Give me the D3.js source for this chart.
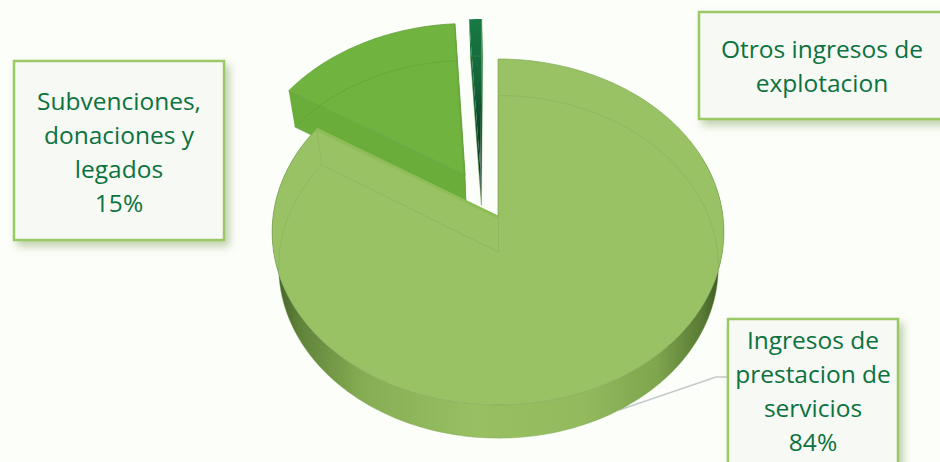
<!DOCTYPE html>
<html>
<head>
<meta charset="utf-8">
<script src="https://cdn.jsdelivr.net/npm/d3@7"></script>
<style>
  html, body { margin: 0; padding: 0; background: #fcfefa; overflow: hidden; }
  text { font-family: "Open Sans", Lato, sans-serif; font-size: 24.5px; fill: #0b7240; text-anchor: middle; }
</style>
</head>
<body>
<svg id="chart" width="940" height="462"></svg>
<script>
// values
const categories = ['Ingresos de prestacion de servicios', 'Subvenciones, donaciones y legados', 'Otros ingresos de explotacion'];
const shares = [84, 15, 1];
const labelLines = [
  ['Ingresos de', 'prestacion de', 'servicios', '84%'],
  ['Subvenciones,', 'donaciones y', 'legados', '15%'],
  ['Otros ingresos de', 'explotacion']
];

// layout
const width = 940, height = 462;
const persp = 0.0867;
const depth = 35;
const explode = [[0, 0], [-0.149, -0.249], [-0.08, -0.281]];
const topColor = ['#99c264', '#70b33e', '#187a46'];
const wallColor = ['#9bc466', '#6bad3a', '#0d4a2a'];
const boxes = [
  { x: 728, y: 319, w: 170, h: 160, cy: 341 },
  { x: 14, y: 61, w: 210, h: 179, cy: 102 },
  { x: 699, y: 12, w: 260, h: 107, cy: 50, cx: 822 }
];

const svg = d3.select('#chart');
const defs = svg.append('defs');

svg.append('rect').attr('width', width).attr('height', height).attr('fill', '#fcfefa');

// top face and the base below it, same perspective
const xTop = d3.scaleLinear().domain([-1, 1]).range([498 - 225, 498 + 225]);
const yTop = d3.scaleLinear().domain([-1, 1]).range([217 - 171.7, 217 + 171.7]);
const xBase = d3.scaleLinear().domain([-1, 1]).range([498.5 - 219, 498.5 + 219]);
const yBase = d3.scaleLinear().domain([-1, 1]).range([217 + depth - 170, 217 + depth + 170]);

let project = (u, v, base) => {
  let w = 1 - persp * v;
  return base ? [xBase(u / w), yBase(v / w)] : [xTop(u / w), yTop(v / w)];
};

let arcPoints = (a0, a1, off, base) => {
  let n = Math.max(2, Math.ceil(Math.abs(a1 - a0) / 0.02));
  return d3.range(n + 1).map(i => {
    let a = a0 + (a1 - a0) * i / n;
    return project(Math.sin(a) + off[0], -Math.cos(a) + off[1], base);
  });
};

const line = d3.line();
const closed = pts => line(pts) + 'Z';

const arcs = d3.pie().sort(null).value(d => d)(shares);

// side of the big slice, dark towards both ends
let sideGrad = defs.append('linearGradient').attr('id', 'side')
  .attr('gradientUnits', 'userSpaceOnUse')
  .attr('x1', 272).attr('x2', 725).attr('y1', 0).attr('y2', 0);
[[0, '#3f5c26'], [0.06, '#5f8239'], [0.2, '#86ad53'], [0.45, '#98c063'],
 [0.68, '#93bb5e'], [0.85, '#7fa54d'], [0.95, '#587a34'], [1, '#33501e']]
  .forEach(s => sideGrad.append('stop').attr('offset', s[0]).attr('stop-color', s[1]));

let darkGrad = defs.append('linearGradient').attr('id', 'dark')
  .attr('x1', 0).attr('x2', 0).attr('y1', 0).attr('y2', 1);
[[0, '#187a46'], [0.45, '#126238'], [0.8, '#0c3d24'], [1, '#59686a']]
  .forEach(s => darkGrad.append('stop').attr('offset', s[0]).attr('stop-color', s[1]));

let shadow = defs.append('filter').attr('id', 'shadow')
  .attr('x', '-10%').attr('y', '-10%').attr('width', '125%').attr('height', '125%');
shadow.append('feDropShadow').attr('dx', 4).attr('dy', 5).attr('stdDeviation', 4)
  .attr('flood-color', '#7f9f5a').attr('flood-opacity', 0.5);

let drawSlice = (d, i) => {
  let off = explode[i];
  let apexTop = project(off[0], off[1], false);
  let apexBase = project(off[0], off[1], true);
  let outerTop = arcPoints(d.startAngle, d.endAngle, off, false);
  let outerBase = arcPoints(d.startAngle, d.endAngle, off, true);
  let g = svg.append('g').attr('class', 'slice');
  let rimTop = outerTop[outerTop.length - 1];
  let rimBase = outerBase[outerBase.length - 1];

  if (i === 0) {
    // outer wall of the disc
    let a0 = 1.2, a1 = d.endAngle;
    let wall = arcPoints(a0, a1, off, false).concat(arcPoints(a0, a1, off, true).reverse());
    g.append('path').attr('d', closed(wall)).attr('fill', 'url(#side)');
    // cut face seen through the notch
    g.append('path').attr('d', closed([apexTop, rimTop, rimBase, apexBase])).attr('fill', wallColor[0]);
  } else {
    let fill = i === 2 ? 'url(#dark)' : wallColor[i];
    g.append('path').attr('d', closed([apexTop, rimTop, rimBase, apexBase])).attr('fill', fill);
    g.append('path').attr('d', closed([apexTop, outerTop[0], outerBase[0], apexBase])).attr('fill', fill);
  }

  g.append('path')
    .attr('d', closed([apexTop].concat(outerTop)))
    .attr('fill', i === 2 ? 'url(#dark)' : topColor[i])
    .attr('stroke', i === 2 ? 'none' : (i === 0 ? '#7fa858' : '#5f9a38'))
    .attr('stroke-width', 0.7);

  if (i === 0) {
    g.append('path').attr('d', line([rimTop, apexTop])).attr('fill', 'none')
      .attr('stroke', '#8dbd56').attr('stroke-width', 3);
  }

  // base edges show through faintly
  g.append('path')
    .attr('d', closed([apexBase].concat(outerBase)))
    .attr('fill', 'none')
    .attr('stroke', i === 0 ? '#7fa858' : '#5c9a36')
    .attr('stroke-opacity', 0.6)
    .attr('stroke-width', 0.7);
  g.append('path')
    .attr('d', line([rimTop, rimBase]))
    .attr('fill', 'none')
    .attr('stroke', i === 0 ? '#7fa858' : '#5c9a36')
    .attr('stroke-opacity', 0.6)
    .attr('stroke-width', 0.7);
};

// back slices first, the big one over them
drawSlice(arcs[2], 2);
drawSlice(arcs[1], 1);
drawSlice(arcs[0], 0);

// leader to the big slice label
svg.append('path')
  .attr('d', line([project(0.51, 0.86, true), [716, 377], [728, 377]]))
  .attr('fill', 'none').attr('stroke', '#c2cacc').attr('stroke-width', 1.5);
// the wall sits in front of the leader start
svg.selectAll('g.slice').raise();

// label boxes
boxes.forEach((b, i) => {
  let g = svg.append('g').attr('class', 'label');
  g.append('rect')
    .attr('x', b.x).attr('y', b.y).attr('width', b.w).attr('height', b.h)
    .attr('fill', '#f7f9f4').attr('stroke', '#9bc965').attr('stroke-width', 2.5)
    .attr('filter', 'url(#shadow)');
  let cx = b.cx === undefined ? b.x + b.w / 2 : b.cx;
  g.selectAll('text').data(labelLines[i]).enter().append('text')
    .attr('x', cx)
    .attr('y', (d, j) => b.cy + j * 34 + 8)
    .text(d => d);
});
</script>
</body>
</html>
